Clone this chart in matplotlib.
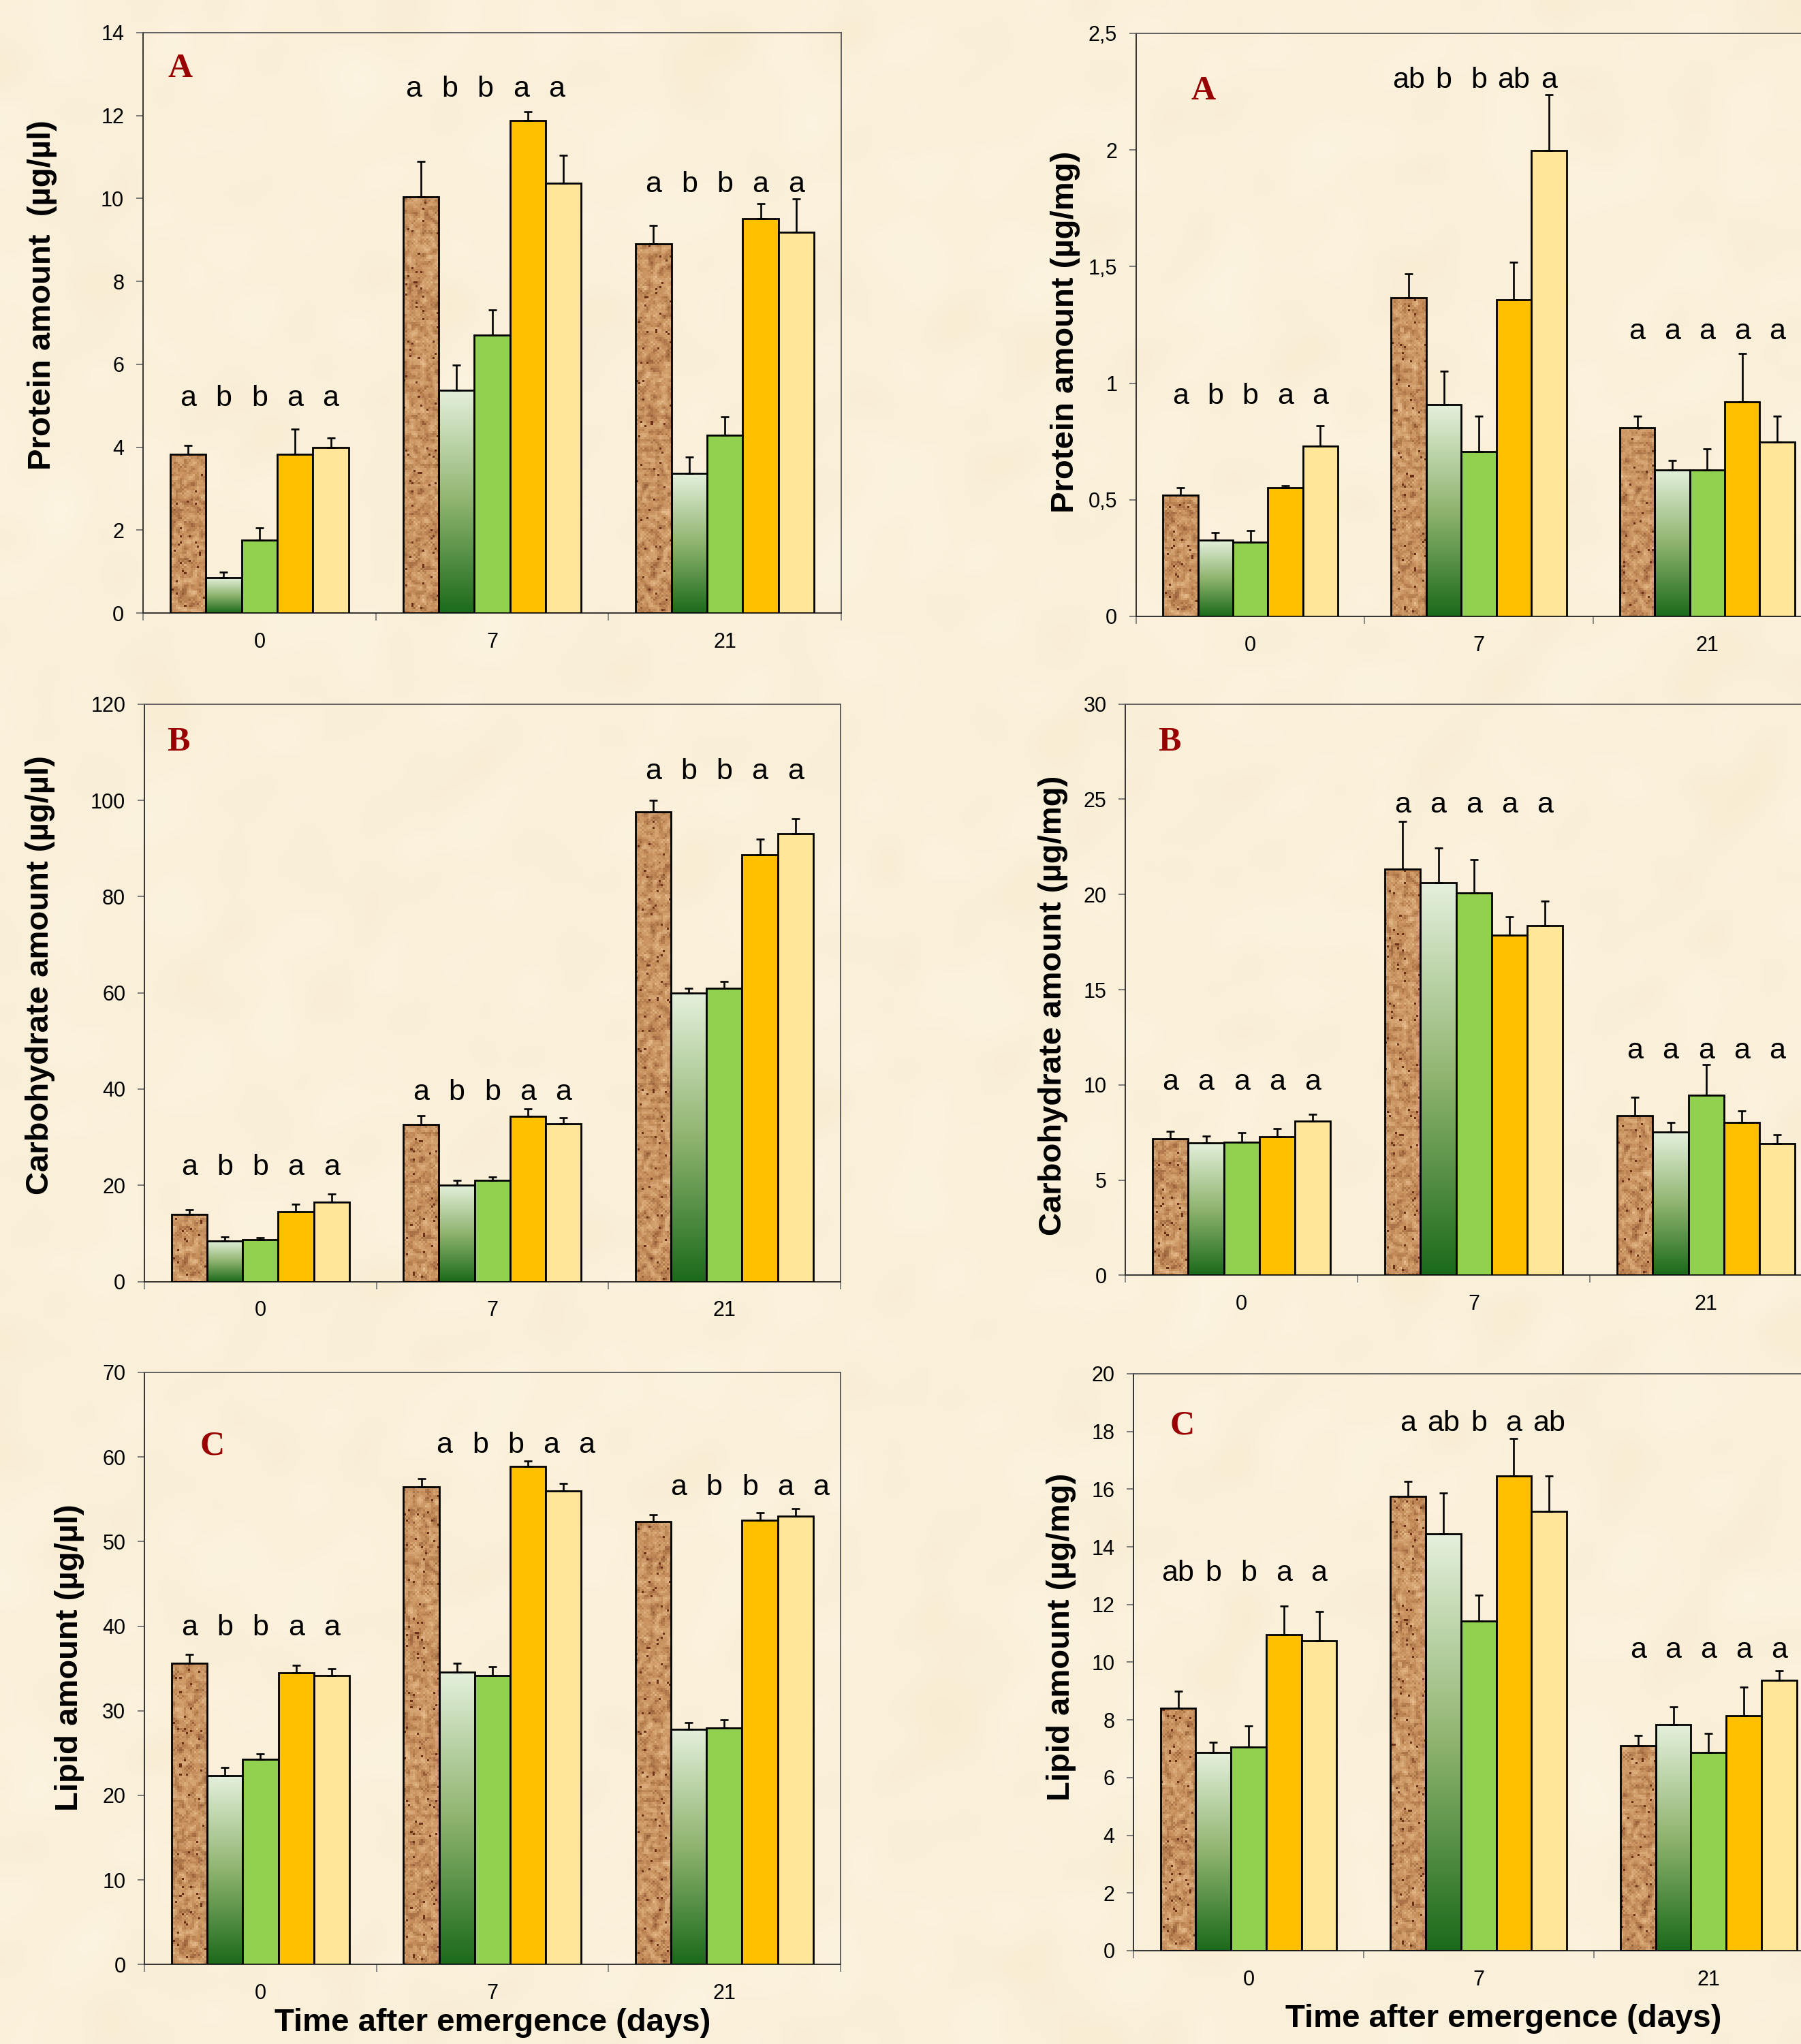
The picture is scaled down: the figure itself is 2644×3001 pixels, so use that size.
import numpy as np
import matplotlib
matplotlib.use("Agg")
import matplotlib.pyplot as plt
from matplotlib.colors import LinearSegmentedColormap, to_rgb
from matplotlib.ticker import FuncFormatter, FixedLocator

# ---------------- data ----------------
days = ["0", "7", "21"]
treatments = ["T1", "T2", "T3", "T4", "T5"]

# values[day][treatment]
protein_ul = [[3.82, 0.85, 1.76, 3.82, 3.99],
              [10.04, 5.38, 6.71, 11.87, 10.36],
              [8.90, 3.36, 4.28, 9.52, 9.19]]
protein_ul_se = [[0.22, 0.13, 0.29, 0.61, 0.23],
                 [0.86, 0.60, 0.60, 0.22, 0.68],
                 [0.44, 0.40, 0.45, 0.35, 0.80]]
protein_ul_sig = [["a", "b", "b", "a", "a"],
                  ["a", "b", "b", "a", "a"],
                  ["a", "b", "b", "a", "a"]]
protein_ul_sig_y = [5.18, 12.64, 10.33]

protein_mg = [[0.519, 0.327, 0.318, 0.551, 0.730],
              [1.368, 0.908, 0.708, 1.359, 1.999],
              [0.808, 0.628, 0.628, 0.919, 0.749]]
protein_mg_se = [[0.032, 0.031, 0.050, 0.009, 0.089],
                 [0.100, 0.143, 0.152, 0.161, 0.238],
                 [0.052, 0.041, 0.089, 0.209, 0.111]]
protein_mg_sig = [["a", "b", "b", "a", "a"],
                  ["ab", "b", "b", "ab", "a"],
                  ["a", "a", "a", "a", "a"]]
protein_mg_sig_y = [0.944, 2.298, 1.221]

carb_ul = [[13.9, 8.5, 8.7, 14.5, 16.5],
           [32.7, 20.1, 21.0, 34.4, 32.8],
           [97.6, 60.0, 61.0, 88.7, 93.1]]
carb_ul_se = [[1.0, 0.8, 0.4, 1.6, 1.7],
              [1.8, 1.0, 0.8, 1.5, 1.2],
              [2.4, 1.0, 1.4, 3.3, 3.1]]
carb_ul_sig = [["a", "b", "b", "a", "a"],
               ["a", "b", "b", "a", "a"],
               ["a", "b", "b", "a", "a"]]
carb_ul_sig_y = [23.7, 39.3, 105.9]

carb_mg = [[7.16, 6.94, 6.98, 7.27, 8.10],
           [21.35, 20.60, 20.08, 17.85, 18.35],
           [8.39, 7.51, 9.46, 8.04, 6.90]]
carb_mg_se = [[0.39, 0.37, 0.51, 0.44, 0.37],
              [2.49, 1.84, 1.75, 0.98, 1.29],
              [0.96, 0.53, 1.60, 0.61, 0.48]]
carb_mg_sig = [["a", "a", "a", "a", "a"],
               ["a", "a", "a", "a", "a"],
               ["a", "a", "a", "a", "a"]]
carb_mg_sig_y = [10.12, 24.7, 11.78]

lipid_ul = [[35.6, 22.3, 24.3, 34.5, 34.2],
            [56.5, 34.6, 34.2, 58.9, 56.0],
            [52.4, 27.8, 28.0, 52.5, 53.0]]
lipid_ul_se = [[1.1, 1.0, 0.6, 0.9, 0.8],
               [0.9, 1.0, 1.0, 0.6, 0.9],
               [0.8, 0.8, 0.9, 0.9, 0.9]]
lipid_ul_sig = [["a", "b", "b", "a", "a"],
                ["a", "b", "b", "a", "a"],
                ["a", "b", "b", "a", "a"]]
lipid_ul_sig_y = [39.8, 61.4, 56.4]

lipid_mg = [[8.40, 6.87, 7.06, 10.96, 10.74],
            [15.74, 14.44, 11.43, 16.45, 15.24],
            [7.11, 7.83, 6.87, 8.15, 9.38]]
lipid_mg_se = [[0.60, 0.36, 0.74, 0.98, 1.01],
               [0.54, 1.42, 0.89, 1.31, 1.21],
               [0.36, 0.63, 0.65, 0.99, 0.33]]
lipid_mg_sig = [["ab", "b", "b", "a", "a"],
                ["a", "ab", "b", "a", "ab"],
                ["a", "a", "a", "a", "a"]]
lipid_mg_sig_y = [13.09, 18.27, 10.42]

# ---------------- style ----------------
W, H = 2644, 3001
DPI = 100
SANS = ["Liberation Sans", "DejaVu Sans"]
SERIF = ["Liberation Serif", "DejaVu Serif"]
plt.rcParams["font.family"] = SANS

bar_colors = ["#C48E5C", "#5E9A4E", "#92D050", "#FFC000", "#FFE699"]
green_grad = LinearSegmentedColormap.from_list(
    "g", [(0.0, "#1B6A1B"), (0.5, "#8FB46F"), (1.0, "#E4F0DC")])
cork = LinearSegmentedColormap.from_list(
    "c", [(0.0, "#8A5230"), (0.45, "#C68F5C"), (1.0, "#EBC394")])


def hash_noise(h, w, seed):
    i, j = np.mgrid[0:h, 0:w].astype(float)
    v = np.sin(i * 12.9898 + j * 78.233 + seed * 37.719) * 43758.5453
    return v - np.floor(v)


def cork_texture(h, w):
    n = hash_noise(h, w, 1)
    s = (n + np.roll(n, 1, 0) + np.roll(n, 1, 1) + np.roll(n, -1, 0)
         + np.roll(n, -1, 1)) / 5.0
    s = (s - s.min()) / (s.max() - s.min())
    rgb = cork(s)[..., :3]
    spots = hash_noise(h, w, 7) > 0.982
    rgb[spots] = to_rgb("#6A3018")
    return rgb


fig = plt.figure(figsize=(W / DPI, H / DPI), dpi=DPI)

# parchment background
bg_ax = fig.add_axes([0, 0, 1, 1], zorder=-10)
bn = hash_noise(90, 80, 3)
bn = (bn + np.roll(bn, 1, 0) + np.roll(bn, 1, 1)) / 3.0
light = np.array(to_rgb("#FDF5E3"))
dark = np.array(to_rgb("#F8EBD0"))
bg = light[None, None, :] * (1 - bn[..., None]) + dark[None, None, :] * bn[..., None]
bg_ax.imshow(bg, extent=(0, 1, 0, 1), aspect="auto", interpolation="bicubic")
bg_ax.set_axis_off()

panels = [
    dict(rect=(210, 47.8, 1025, 852.2), vals=protein_ul, se=protein_ul_se,
         sig=protein_ul_sig, sig_y=protein_ul_sig_y, sig_dx=[0, -0.03, 0],
         ymax=14, ystep=2, ylabel="Protein amount  (\u00b5g/\u00b5l)",
         ylab_xy=(-0.144, 0.548), letter="A", letter_xy=(0.053, 0.937), xlabel=None),
    dict(rect=(1668, 49, 1006, 856), vals=protein_mg, se=protein_mg_se,
         sig=protein_mg_sig, sig_y=protein_mg_sig_y, sig_dx=[0, 0, 0],
         ymax=2.5, ystep=0.5, ylabel="Protein amount (\u00b5g/mg)",
         ylab_xy=(-0.103, 0.488), letter="A", letter_xy=(0.098, 0.901), xlabel=None),
    dict(rect=(212, 1033.7, 1021.6, 847.9), vals=carb_ul, se=carb_ul_se,
         sig=carb_ul_sig, sig_y=carb_ul_sig_y, sig_dx=[0, 0, 0],
         ymax=120, ystep=20, ylabel="Carbohydrate amount (\u00b5g/\u00b5l)",
         ylab_xy=(-0.15, 0.531), letter="B", letter_xy=(0.049, 0.934), xlabel=None),
    dict(rect=(1652.3, 1033.7, 1023, 838.7), vals=carb_mg, se=carb_mg_se,
         sig=carb_mg_sig, sig_y=carb_mg_sig_y, sig_dx=[0, 0, 0],
         ymax=30, ystep=5, ylabel="Carbohydrate amount (\u00b5g/mg)",
         ylab_xy=(-0.104, 0.472), letter="B", letter_xy=(0.0635, 0.933), xlabel=None),
    dict(rect=(212.2, 2015, 1021.4, 869.3), vals=lipid_ul, se=lipid_ul_se,
         sig=lipid_ul_sig, sig_y=lipid_ul_sig_y, sig_dx=[0, 0.1, 0.11],
         ymax=70, ystep=10, ylabel="Lipid amount (\u00b5g/\u00b5l)",
         ylab_xy=(-0.108, 0.518), letter="C", letter_xy=(0.0974, 0.875),
         xlabel=(0.5, -0.0986)),
    dict(rect=(1664.2, 2017, 1013, 846.9), vals=lipid_mg, se=lipid_mg_se,
         sig=lipid_mg_sig, sig_y=lipid_mg_sig_y, sig_dx=[0, 0, 0],
         ymax=20, ystep=2, ylabel="Lipid amount (\u00b5g/mg)",
         ylab_xy=(-0.105, 0.544), letter="C", letter_xy=(0.0705, 0.91),
         xlabel=(0.536, -0.118)),
]

bw = 0.1533
offsets = (np.arange(5) - 2) * bw
fmt = FuncFormatter(lambda v, p: ("%g" % round(v, 6)).replace(".", ","))

for P in panels:
    x0, y0, w, h = P["rect"]
    ax = fig.add_axes([x0 / W, 1 - (y0 + h) / H, w / W, h / H])
    ax.set_facecolor("none")
    vals = np.array(P["vals"])
    se = np.array(P["se"])
    xlim = (-0.5, 2.5)
    ylim = (0, P["ymax"])
    tex = cork_texture(int(h / 3), int(w / 3))
    g = np.arange(len(days))
    for t in range(5):
        xs = g + offsets[t]
        ys = vals[:, t]
        textured = t in (0, 1)
        bars = ax.bar(xs, ys, width=bw,
                      color="none" if textured else bar_colors[t],
                      edgecolor="black", linewidth=2.0, zorder=3)
        if t == 0:
            for b in bars:
                im = ax.imshow(tex, extent=(xlim[0], xlim[1], ylim[0], ylim[1]),
                               aspect="auto", interpolation="nearest",
                               origin="lower", zorder=2)
                im.set_clip_path(b)
        elif t == 1:
            for b in bars:
                bx, by = b.get_x(), b.get_height()
                im = ax.imshow(np.linspace(0, 1, 256).reshape(-1, 1),
                               extent=(bx, bx + bw, 0, by), cmap=green_grad,
                               aspect="auto", interpolation="bilinear",
                               origin="lower", zorder=2)
                im.set_clip_path(b)
        ax.errorbar(xs, ys, yerr=[np.zeros_like(ys), se[:, t]], fmt="none",
                    ecolor="black", elinewidth=1.9, capsize=4.5, capthick=1.9,
                    zorder=4)
    ax.set_xlim(*xlim)
    ax.set_ylim(*ylim)

    # significance letters
    for gi in range(len(days)):
        for t in range(5):
            ax.text(gi + offsets[t] + P["sig_dx"][gi], P["sig_y"][gi],
                    P["sig"][gi][t], ha="center", va="center", fontsize=31,
                    zorder=5)

    # axes styling
    for side in ("left", "bottom"):
        ax.spines[side].set_color("#333333")
        ax.spines[side].set_linewidth(1.4)
    for side in ("top", "right"):
        ax.spines[side].set_color("#555555")
        ax.spines[side].set_linewidth(1.3)
    ax.yaxis.set_major_locator(FixedLocator(np.arange(0, P["ymax"] + 1e-9, P["ystep"])))
    ax.yaxis.set_major_formatter(fmt)
    ax.tick_params(axis="y", direction="out", length=7, width=1.3,
                   color="#707070", labelsize=22, pad=13)
    ax.set_xticks([-0.5, 0.5, 1.5, 2.5])
    ax.set_xticklabels([])
    ax.set_xticks(g, minor=True)
    ax.set_xticklabels(days, minor=True)
    ax.tick_params(axis="x", which="major", direction="out", length=8,
                   width=1.3, color="#808080")
    ax.tick_params(axis="x", which="minor", length=0, labelsize=22, pad=20)

    ax.set_ylabel(P["ylabel"], fontsize=34, fontweight="bold")
    ax.yaxis.label.set_va("center")
    ax.yaxis.set_label_coords(*P["ylab_xy"])
    if P["xlabel"] is not None:
        ax.set_xlabel("Time after emergence (days)", fontsize=34,
                      fontweight="bold")
        ax.xaxis.label.set_va("center")
        ax.xaxis.set_label_coords(*P["xlabel"])
    ax.text(P["letter_xy"][0], P["letter_xy"][1], P["letter"],
            transform=ax.transAxes, ha="center", va="center", fontsize=36,
            fontweight="bold", color="#990000", family=SERIF, zorder=6)

fig.savefig("out.png", dpi=DPI)
